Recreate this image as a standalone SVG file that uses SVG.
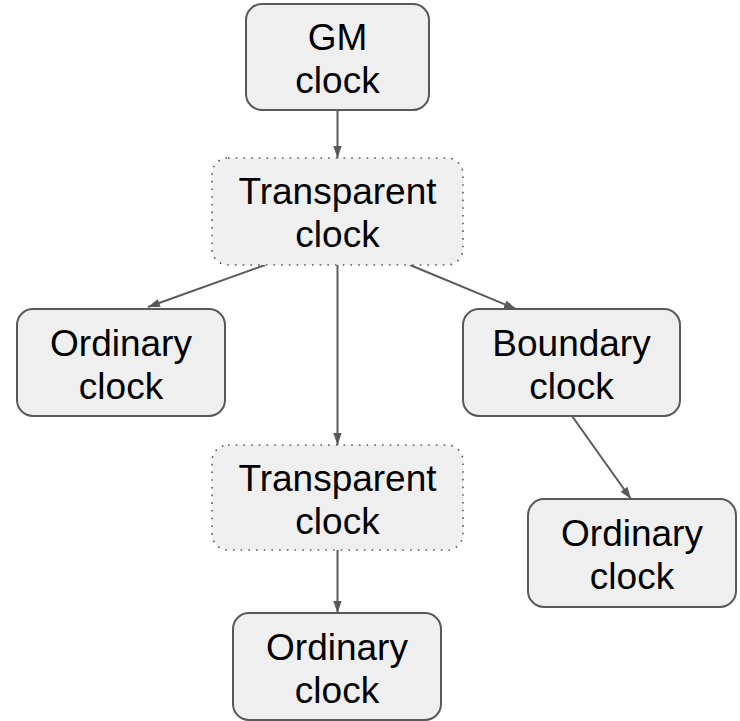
<svg xmlns="http://www.w3.org/2000/svg" width="740" height="721" viewBox="0 0 740 721">
<style>
.box{fill:#efefef;stroke:#595959;stroke-width:2}
.dot{fill:#efefef;stroke:#595959;stroke-width:1.6;stroke-dasharray:1.6 6.1;stroke-linecap:butt}
.lbl{font-family:"Liberation Sans",Arial,sans-serif;font-size:37px;fill:#000;text-anchor:middle}
.edge{fill:none;stroke:#595959;stroke-width:2}
</style>
<defs>
<marker id="ah" markerUnits="userSpaceOnUse" markerWidth="14" markerHeight="10" refX="12" refY="5" orient="auto">
<path d="M0,0.8 L12,5 L0,9.2 Z" fill="#595959"/>
</marker>
</defs>
<rect width="740" height="721" fill="#ffffff"/>
<g id="connectors">
<line class="edge" x1="337.5" y1="110" x2="337.5" y2="158" marker-end="url(#ah)"/>
<line class="edge" x1="265" y1="265" x2="148" y2="307" marker-end="url(#ah)"/>
<line class="edge" x1="410" y1="265" x2="516" y2="309" marker-end="url(#ah)"/>
<line class="edge" x1="337.5" y1="265" x2="337.5" y2="445" marker-end="url(#ah)"/>
<line class="edge" x1="572" y1="416" x2="631" y2="499" marker-end="url(#ah)"/>
<line class="edge" x1="337.5" y1="550" x2="337.5" y2="613" marker-end="url(#ah)"/>
</g>
<g id="gm">
<rect class="box" x="246" y="4" width="183" height="106" rx="16"/>
<text class="lbl" x="337.5" y="50">GM</text>
<text class="lbl" x="337.5" y="93">clock</text>
</g>
<g id="tc1">
<rect class="dot" x="212" y="158" width="251" height="107" rx="16"/>
<text class="lbl" x="337.5" y="204">Transparent</text>
<text class="lbl" x="337.5" y="247">clock</text>
</g>
<g id="oc1">
<rect class="box" x="17" y="309" width="208" height="107" rx="16"/>
<text class="lbl" x="121" y="356">Ordinary</text>
<text class="lbl" x="121" y="399">clock</text>
</g>
<g id="bc">
<rect class="box" x="463" y="309" width="217" height="107" rx="16"/>
<text class="lbl" x="571.5" y="356">Boundary</text>
<text class="lbl" x="571.5" y="399">clock</text>
</g>
<g id="tc2">
<rect class="dot" x="212" y="445" width="251" height="105" rx="16"/>
<text class="lbl" x="337.5" y="491">Transparent</text>
<text class="lbl" x="337.5" y="534">clock</text>
</g>
<g id="oc2">
<rect class="box" x="528" y="499" width="208" height="108" rx="16"/>
<text class="lbl" x="632" y="546">Ordinary</text>
<text class="lbl" x="632" y="589">clock</text>
</g>
<g id="oc3">
<rect class="box" x="233" y="613" width="208" height="107" rx="16"/>
<text class="lbl" x="337" y="660">Ordinary</text>
<text class="lbl" x="337" y="703">clock</text>
</g>
</svg>
